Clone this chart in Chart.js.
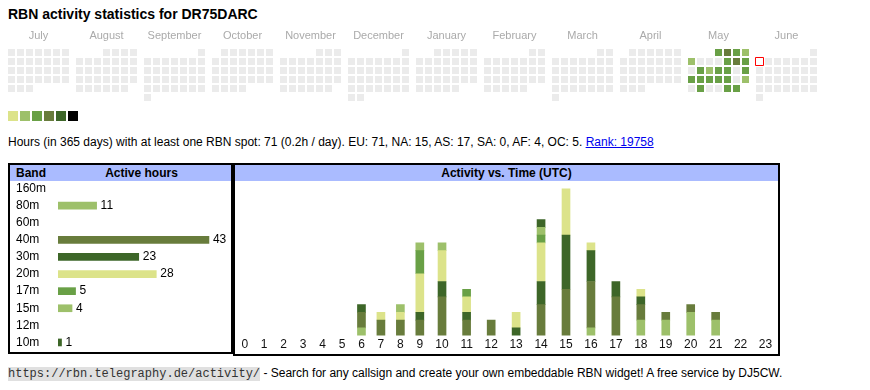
<!DOCTYPE html>
<html>
<head>
<meta charset="utf-8">
<script src="https://cdn.jsdelivr.net/npm/chart.js"></script>
<style>
  body { margin: 0; background: #fff; font-family: "Liberation Sans", Arial, sans-serif; font-size: 12px; color: #000; }
  .abs { position: absolute; }
  #title { left: 8px; top: 6px; font-size: 14px; font-weight: bold; line-height: 16px; }
  .lg { position: absolute; top: 111px; width: 10px; height: 10px; }
  #stats { left: 8px; top: 135px; line-height: 14px; white-space: nowrap; }
  #stats a { color: #0000ee; }
  .box { position: absolute; box-sizing: border-box; border: 2px solid #000; }
  .head { position: absolute; height: 16px; background: #aabbff; font-weight: bold; line-height: 16px; }
  #foot { left: 8px; top: 366px; line-height: 15px; white-space: nowrap; }
  #foot code { font-family: "Liberation Mono", "Courier New", monospace; font-size: 12px; background: #e0e0e0; color: #333; }
</style>
</head>
<body>
<div id="title" class="abs">RBN activity statistics for DR75DARC</div>
<canvas id="calChart" class="abs" width="811" height="74" style="left:7px;top:28px;width:811px;height:74px"></canvas>
<div id="legend"></div>
<div id="stats" class="abs">Hours (in 365 days) with at least one RBN spot: 71 (0.2h / day). EU: 71, NA: 15, AS: 17, SA: 0, AF: 4, OC: 5. <a href="#">Rank: 19758</a></div>

<div class="box" style="left:8px;top:163px;width:225px;height:191px"></div>
<div class="head" style="left:10px;top:165px;width:221px">
  <span class="abs" style="left:6px">Band</span>
  <span class="abs" style="left:42px;width:179px;text-align:center">Active hours</span>
</div>
<canvas id="bandChart" class="abs" width="214" height="171" style="left:16px;top:180px;width:214px;height:171px"></canvas>

<div class="box" style="left:233px;top:163px;width:547px;height:193px"></div>
<div class="head" style="left:235px;top:165px;width:543px;text-align:center">Activity vs. Time (UTC)</div>
<canvas id="hourChart" class="abs" width="543" height="173" style="left:235px;top:181px;width:543px;height:173px"></canvas>

<div id="foot" class="abs"><code>https://rbn.telegraphy.de/activity/</code> - Search for any callsign and create your own embeddable RBN widget! A free service by DJ5CW.</div>

<script>
// colour scale (level 1..6), also used for the bands
const levelColors = ["#dce38a", "#9dc06a", "#69a046", "#687c3c", "#3d6628", "#000000"];
const emptyColor = "#ebebeb";

// calendar: July 2024 .. June 2025
const months = ["July", "August", "September", "October", "November", "December",
                "January", "February", "March", "April", "May", "June"];
const activeDays = ["2025-05-01", "2025-05-02", "2025-05-03", "2025-05-04", "2025-05-05",
                    "2025-05-09", "2025-05-10", "2025-05-11", "2025-05-13", "2025-05-14",
                    "2025-05-15", "2025-05-16", "2025-05-18", "2025-05-19", "2025-05-20",
                    "2025-05-21", "2025-05-22", "2025-05-23", "2025-05-25", "2025-05-27",
                    "2025-05-30", "2025-05-31"];
const activeLevels = [3, 4, 3, 2, 2, 3, 4, 3, 3, 2, 3, 3, 3, 3, 3, 3, 3, 3, 2, 3, 3, 3];
const today = "2025-06-02";

// bands
const bands = ["160m", "80m", "60m", "40m", "30m", "20m", "17m", "15m", "12m", "10m"];
const bandHours = [0, 11, 0, 43, 23, 28, 5, 4, 0, 1];
const bandLevel = [1, 2, 3, 4, 5, 1, 3, 2, 1, 5];

// activity per UTC hour, per band
const hourLabels = ["0","1","2","3","4","5","6","7","8","9","10","11","12","13","14","15","16","17","18","19","20","21","22","23"];
const act80m = [0,0,0,0,0,0,1,0,0,0,0,0,0,0,0,0,1,0,2,2,3,2,0,0];
const act40m = [0,0,0,0,0,0,2,2,2,2,5,2,2,0,4,6,6,5,2,1,1,1,0,0];
const act30m = [0,0,0,0,0,0,1,0,0,1,2,1,0,1,3,7,4,2,1,0,0,0,0,0];
const act20m = [0,0,0,0,0,0,0,1,1,5,4,2,0,2,5,6,1,0,1,0,0,0,0,0];
const act17m = [0,0,0,0,0,0,0,0,0,3,0,1,0,0,1,0,0,0,0,0,0,0,0,0];
const act15m = [0,0,0,0,0,0,0,0,1,1,1,0,0,0,1,0,0,0,0,0,0,0,0,0];
const act10m = [0,0,0,0,0,0,0,0,0,0,0,0,0,0,1,0,0,0,0,0,0,0,0,0];

Chart.defaults.font.family = '"Liberation Sans", Arial, sans-serif';
Chart.defaults.animation = false;

// no label overhang padding, the boxes are sized by hand
const noPad = s => { s.paddingLeft = 0; s.paddingRight = 0; s.paddingTop = 0; s.paddingBottom = 0; };

// legend squares
levelColors.forEach((c, i) => {
  const d = document.createElement("div");
  d.className = "lg";
  d.style.left = (8 + i * 12) + "px";
  d.style.background = c;
  document.getElementById("legend").appendChild(d);
});

// --- calendar ---
const monthPitch = 68 / 9; // 7 day columns + gap
const pad2 = n => (n < 10 ? "0" : "") + n;
const dayPoints = [], dayColors = [], todayPoint = [];
for (let m = 0; m < 12; m++) {
  const year = m < 6 ? 2024 : 2025;
  const mon = (6 + m) % 12;
  const first = (new Date(year, mon, 1).getDay() + 6) % 7;
  const nDays = new Date(year, mon + 1, 0).getDate();
  for (let d = 1; d <= nDays; d++) {
    const key = year + "-" + pad2(mon + 1) + "-" + pad2(d);
    const pt = {x: m * monthPitch + (first + d - 1) % 7, y: Math.floor((first + d - 1) / 7)};
    if (key === today) { todayPoint.push(pt); continue; }
    const k = activeDays.indexOf(key);
    dayPoints.push(pt);
    dayColors.push(k >= 0 ? levelColors[activeLevels[k] - 1] : emptyColor);
  }
}

new Chart(document.getElementById("calChart"), {
  type: "scatter",
  data: {
    datasets: [
      {data: dayPoints, pointStyle: "rect", pointRadius: 4.95, pointBorderWidth: 0,
       pointBackgroundColor: dayColors, clip: false},
      // today: outlined square, sized so the 1px outline is crisp
      {data: todayPoint, pointStyle: "rect", pointRadius: 5.657, pointBorderWidth: 1,
       pointBackgroundColor: "#fff", pointBorderColor: "#ff0000", clip: false}
    ]
  },
  options: {
    responsive: false,
    events: [],
    layout: {padding: 0, autoPadding: false},
    plugins: {legend: {display: false}, tooltip: {enabled: false}},
    scales: {
      x: {
        type: "linear", position: "top", min: -0.5, max: 11 * monthPitch + 6.5,
        grid: {display: false, drawTicks: false}, border: {display: false},
        afterBuildTicks: s => { s.ticks = months.map((m, i) => ({value: i * monthPitch + 3})); },
        afterFit: s => { s.height = 20; noPad(s); },
        ticks: {padding: 5, color: "#aaa", font: {size: 11}, autoSkip: false, maxRotation: 0,
                callback: (v, i) => months[i]}
      },
      y: {type: "linear", min: -0.5, max: 5.5, reverse: true, display: false}
    }
  }
});

// --- band table ---
const barValueLabels = {
  id: "barValueLabels",
  afterDatasetsDraw(chart) {
    const ctx = chart.ctx;
    ctx.save();
    ctx.font = '12px "Liberation Sans", Arial, sans-serif';
    ctx.fillStyle = "#000";
    ctx.textBaseline = "middle";
    chart.getDatasetMeta(0).data.forEach((bar, i) => {
      if (bandHours[i]) ctx.fillText(bandHours[i], bar.x + 4, bar.y);
    });
    ctx.restore();
  }
};

new Chart(document.getElementById("bandChart"), {
  type: "bar",
  data: {
    labels: bands,
    datasets: [{data: bandHours.map(v => v || null), backgroundColor: bandLevel.map(l => levelColors[l - 1]),
                barThickness: 7, borderWidth: 0}]
  },
  options: {
    indexAxis: "y",
    responsive: false,
    events: [],
    layout: {padding: 0},
    plugins: {legend: {display: false}, tooltip: {enabled: false}},
    scales: {
      x: {min: 0, max: 49, display: false},
      y: {
        grid: {display: false, drawTicks: false}, border: {display: false},
        afterFit: s => { s.width = 42; noPad(s); },
        ticks: {crossAlign: "far", padding: 0, color: "#000", font: {size: 12}, autoSkip: false}
      }
    }
  },
  plugins: [barValueLabels]
});

// --- activity vs time: table-like columns, width grows with label width ---
class HourScale extends Chart.CategoryScale {
  columnCenters() {
    const labels = this.getLabels();
    const ctx = this.ctx;
    ctx.save();
    ctx.font = Chart.helpers.toFont(this.options.ticks.font).string;
    const widths = labels.map(l => ctx.measureText(l).width + 17);
    ctx.restore();
    const k = this.width / widths.reduce((a, b) => a + b, 0);
    let x = this.left;
    return widths.map(w => { const c = x + w * k / 2; x += w * k; return c; });
  }
  getPixelForValue(value) {
    if (typeof value !== "number") value = this.parse(value);
    return this.columnCenters()[value];
  }
}
HourScale.id = "hour";
HourScale.defaults = Chart.CategoryScale.defaults;
Chart.register(HourScale);

const hourSets = [[act80m, 2], [act40m, 4], [act30m, 5], [act20m, 1], [act17m, 3], [act15m, 2], [act10m, 5]];

new Chart(document.getElementById("hourChart"), {
  type: "bar",
  data: {
    labels: hourLabels,
    datasets: hourSets.map(s => ({data: s[0].map(v => v || null), backgroundColor: levelColors[s[1] - 1],
                                  barThickness: 8, borderWidth: 0}))
  },
  options: {
    responsive: false,
    events: [],
    layout: {padding: 0},
    plugins: {legend: {display: false}, tooltip: {enabled: false}},
    scales: {
      x: {
        type: "hour", stacked: true,
        grid: {display: false, drawTicks: false}, border: {display: false},
        afterFit: noPad,
        ticks: {padding: 2, color: "#111", font: {size: 12}, autoSkip: false, maxRotation: 0}
      },
      y: {stacked: true, min: 0, max: 20, display: false}
    }
  }
});
</script>
</body>
</html>
